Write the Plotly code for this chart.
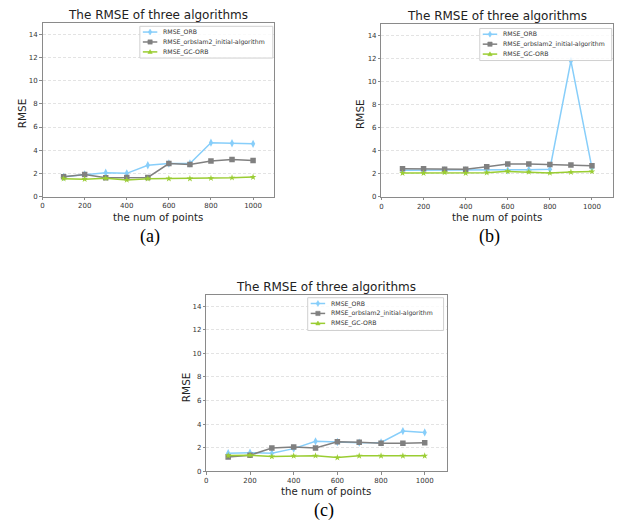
import plotly.graph_objects as go

x_points = [100, 200, 300, 400, 500, 600, 700, 800, 900, 1000]

orb_a = [1.7, 1.9, 2.05, 2.0, 2.7, 2.85, 2.85, 4.65, 4.6, 4.55]
init_a = [1.7, 1.9, 1.63, 1.65, 1.65, 2.85, 2.77, 3.06, 3.2, 3.1]
gc_a = [1.54, 1.5, 1.58, 1.43, 1.54, 1.55, 1.55, 1.58, 1.62, 1.68]

orb_b = [2.3, 2.3, 2.3, 2.3, 2.3, 2.3, 2.35, 2.4, 11.8, 2.5]
init_b = [2.44, 2.44, 2.4, 2.4, 2.61, 2.84, 2.86, 2.8, 2.76, 2.7]
gc_b = [2.06, 2.06, 2.12, 2.06, 2.1, 2.21, 2.16, 2.07, 2.15, 2.2]

orb_c = [1.52, 1.57, 1.52, 1.91, 2.53, 2.47, 2.42, 2.44, 3.4, 3.29]
init_c = [1.21, 1.35, 1.97, 2.05, 1.97, 2.5, 2.45, 2.36, 2.36, 2.42]
gc_c = [1.32, 1.35, 1.24, 1.29, 1.31, 1.15, 1.3, 1.3, 1.3, 1.3]

series_names = ["RMSE_ORB", "RMSE_orbslam2_initial-algorithm", "RMSE_GC-ORB"]
x_ticks = [0, 200, 400, 600, 800, 1000]
y_ticks = [0, 2, 4, 6, 8, 10, 12, 14]
captions = ["(a)", "(b)", "(c)"]
title_text = "The RMSE of three algorithms"
xtitle_text = "the num of points"
ytitle_text = "RMSE"

colors = ["#87CEFA", "#808080", "#9ACD32"]
symbols = ["diamond-tall", "square", "star"]
msizes = [6, 5.5, 5]

panels = [
    dict(data=[orb_a, init_a, gc_a], xd=[40.7, 273], yd=[23, 198], leg=(138.3, 26.5, 271.7, 58.5)),
    dict(data=[orb_b, init_b, gc_b], xd=[380.7, 613], yd=[24.3, 198.3], leg=(479.3, 28.7, 611.7, 61)),
    dict(data=[orb_c, init_c, gc_c], xd=[205, 446], yd=[296.8, 474.7], leg=(306.7, 300, 443, 333)),
]

W, H = 620, 532
FONT = "DejaVu Sans"


def px(x):
    return x / W


def py(y):
    return 1 - y / H


fig = go.Figure()
annotations = []
shapes = []
layout = dict(
    width=W, height=H,
    margin=dict(l=0, r=0, t=0, b=0),
    paper_bgcolor="white", plot_bgcolor="white",
    font=dict(family=FONT, color="#333"),
    showlegend=False,
)


def legend_marker(kind, cx, cy, color):
    if kind == "diamond-tall":
        path = "M{},{} L{},{} L{},{} L{},{} Z".format(
            px(cx), py(cy - 3), px(cx + 1.8), py(cy), px(cx), py(cy + 3), px(cx - 1.8), py(cy))
        return dict(type="path", path=path, xref="paper", yref="paper",
                    fillcolor=color, line=dict(color=color, width=0.5), layer="above")
    if kind == "square":
        return dict(type="rect", x0=px(cx - 2.2), x1=px(cx + 2.2), y0=py(cy + 2.2), y1=py(cy - 2.2),
                    xref="paper", yref="paper", fillcolor=color,
                    line=dict(color=color, width=0.5), layer="above")
    path = "M{},{} L{},{} L{},{} Z".format(
        px(cx), py(cy - 2.3), px(cx + 2.2), py(cy + 1.6), px(cx - 2.2), py(cy + 1.6))
    return dict(type="path", path=path, xref="paper", yref="paper",
                fillcolor=color, line=dict(color=color, width=0.5), layer="above")


for i, p in enumerate(panels):
    k = "" if i == 0 else str(i + 1)
    for j, ser in enumerate(p["data"]):
        fig.add_trace(go.Scatter(
            x=x_points, y=ser, name=series_names[j], mode="lines+markers",
            line=dict(color=colors[j], width=1.5),
            marker=dict(symbol=symbols[j], size=msizes[j], color=colors[j]),
            xaxis="x" + k, yaxis="y" + k,
        ))
    x0, x1 = px(p["xd"][0]), px(p["xd"][1])
    y0, y1 = py(p["yd"][1]), py(p["yd"][0])
    axcommon = dict(
        showline=True, mirror=True, linecolor="#8a8a8a", linewidth=1,
        ticks="outside", ticklen=2.5, tickcolor="#8a8a8a",
        tickfont=dict(size=7, color="#333", family=FONT),
        zeroline=False,
    )
    layout["xaxis" + k] = dict(
        domain=[x0, x1], range=[0, 1100], tickvals=x_ticks, showgrid=False,
        anchor="y" + k, **axcommon,
    )
    layout["yaxis" + k] = dict(
        domain=[y0, y1], range=[0, 15], tickvals=y_ticks, showgrid=True,
        gridcolor="#e3e3e3", griddash="3px,2px", gridwidth=1,
        anchor="x" + k, **axcommon,
    )
    # legend (drawn by hand to match compact matplotlib legend)
    lx0, ly0, lx1, ly1 = p["leg"]
    shapes.append(dict(type="rect", xref="paper", yref="paper",
                       x0=px(lx0), x1=px(lx1), y0=py(ly1), y1=py(ly0),
                       fillcolor="rgba(255,255,255,0.8)", line=dict(color="#d0d0d0", width=1),
                       layer="above"))
    for j in range(3):
        ry = ly0 + 5.8 + 10 * j
        shapes.append(dict(type="line", xref="paper", yref="paper",
                           x0=px(lx0 + 3), x1=px(lx0 + 17.5), y0=py(ry), y1=py(ry),
                           line=dict(color=colors[j], width=1.5), layer="above"))
        shapes.append(legend_marker(symbols[j], lx0 + 10.25, ry, colors[j]))
        annotations.append(dict(
            text=series_names[j], x=px(lx0 + 21.5), y=py(ry),
            xref="paper", yref="paper", xanchor="left", yanchor="middle",
            showarrow=False, font=dict(size=6.2, color="#333", family=FONT),
        ))
    cx = (p["xd"][0] + p["xd"][1]) / 2
    annotations.append(dict(
        text=title_text, x=px(cx), y=py(p["yd"][0] - 8),
        xref="paper", yref="paper", xanchor="center", yanchor="middle",
        showarrow=False, font=dict(size=12, color="#222", family=FONT),
    ))
    annotations.append(dict(
        text=xtitle_text, x=px(cx), y=py(p["yd"][1] + 21),
        xref="paper", yref="paper", xanchor="center", yanchor="middle",
        showarrow=False, font=dict(size=10.2, color="#222", family=FONT),
    ))
    annotations.append(dict(
        text=ytitle_text, x=px(p["xd"][0] - 21),
        y=py((p["yd"][0] + p["yd"][1]) / 2 + 4),
        xref="paper", yref="paper", xanchor="center", yanchor="middle",
        textangle=-90, showarrow=False, font=dict(size=10.5, color="#222", family=FONT),
    ))
    annotations.append(dict(
        text=captions[i], x=px(cx - 8 if i < 2 else cx - 2),
        y=py(p["yd"][1] + 40),
        xref="paper", yref="paper", xanchor="center", yanchor="middle",
        showarrow=False, font=dict(size=18, color="#000", family="Liberation Serif"),
    ))

layout["annotations"] = annotations
layout["shapes"] = shapes
fig.update_layout(**layout)
fig.write_html("out.html")
